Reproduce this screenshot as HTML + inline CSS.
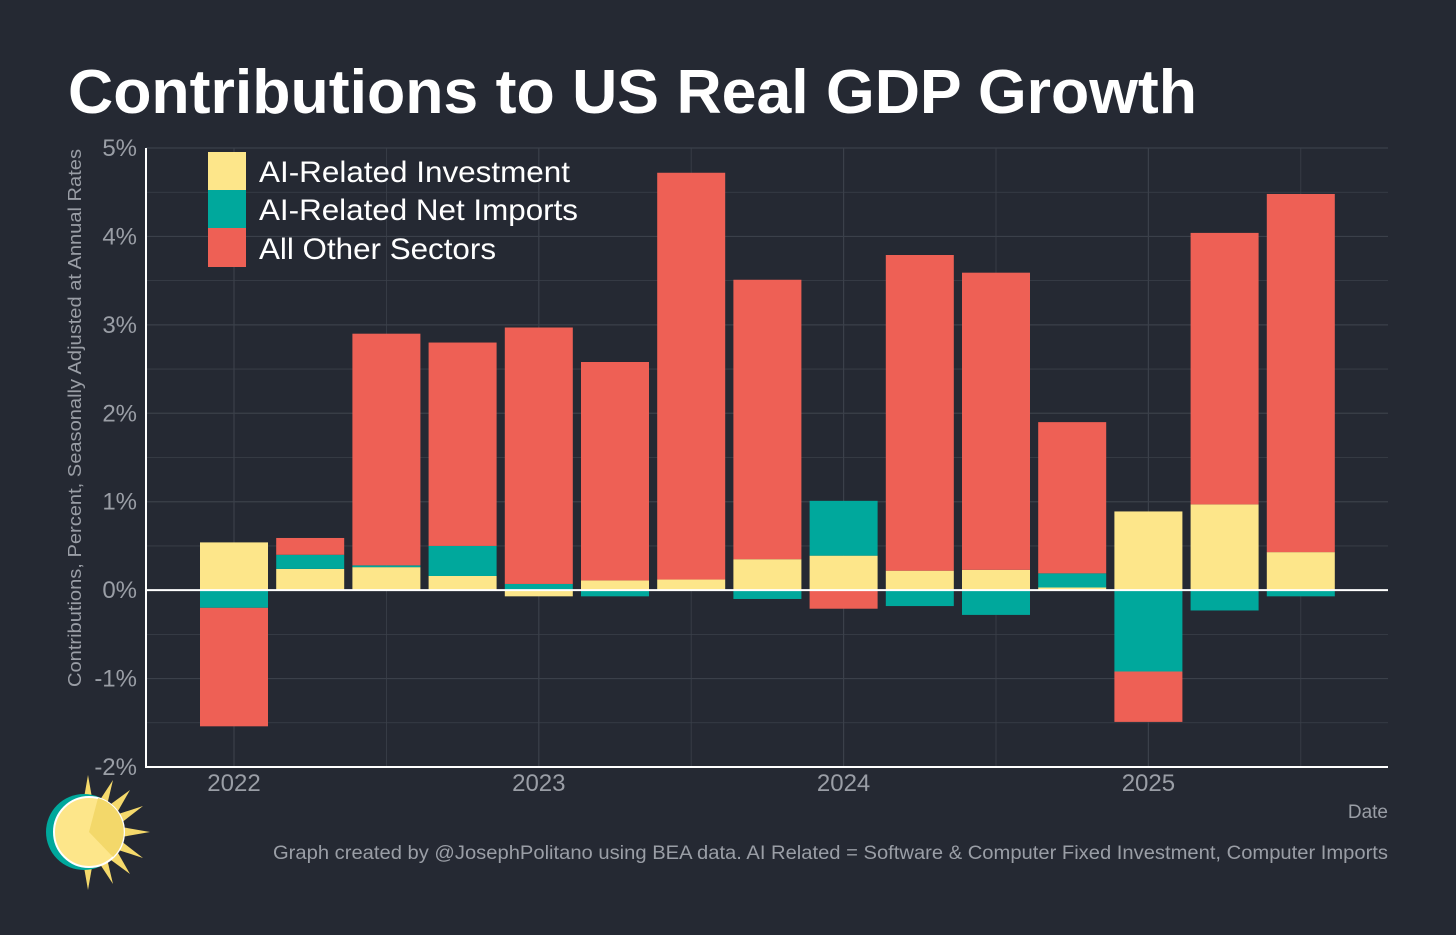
<!DOCTYPE html>
<html><head><meta charset="utf-8"><style>
html,body{margin:0;padding:0;background:#252933;}
body{width:1456px;height:930px;overflow:hidden;font-family:"Liberation Sans",sans-serif;}
</style></head><body>
<svg id="chart" width="1456" height="930" viewBox="0 0 1456 930" xmlns="http://www.w3.org/2000/svg" font-family="Liberation Sans, sans-serif">
<rect width="1456" height="930" fill="#252933"/>
<text x="68" y="113" fill="#ffffff" font-size="62" font-weight="bold" textLength="1129" lengthAdjust="spacingAndGlyphs">Contributions to US Real GDP Growth</text>
<g id="grid"></g>
<g id="bars"></g>
<g id="axes"></g>
<text transform="translate(81,418) rotate(-90)" text-anchor="middle" fill="#9a9ea6" font-size="18" textLength="538" lengthAdjust="spacingAndGlyphs">Contributions, Percent, Seasonally Adjusted at Annual Rates</text>
<text x="1388" y="818" text-anchor="end" fill="#9a9ea6" font-size="19">Date</text>
<text x="273" y="859" fill="#9a9ea6" font-size="19" textLength="1115" lengthAdjust="spacingAndGlyphs">Graph created by @JosephPolitano using BEA data. AI Related = Software &amp; Computer Fixed Investment, Computer Imports</text>
<g>
<rect x="208" y="152" width="38" height="38" fill="#fde68a"/>
<rect x="208" y="190" width="38" height="38" fill="#00a89c"/>
<rect x="208" y="228" width="38" height="39" fill="#ee6055"/>
<text x="259" y="182" fill="#ffffff" font-size="30" textLength="311" lengthAdjust="spacingAndGlyphs">AI-Related Investment</text>
<text x="259" y="220" fill="#ffffff" font-size="30" textLength="319" lengthAdjust="spacingAndGlyphs">AI-Related Net Imports</text>
<text x="259" y="259" fill="#ffffff" font-size="30" textLength="237" lengthAdjust="spacingAndGlyphs">All Other Sectors</text>
</g>
<g>
<g fill="#f5d96b">
<polygon points="88,775 95,815 81,815"/><polygon points="88,890 95,850 81,850"/>
<polygon points="150,832 110,839 110,825"/>
<polygon points="130,790 110,825 100,812"/><polygon points="130,874 110,839 100,852"/>
<polygon points="113,780 104,818 92,812"/><polygon points="113,884 104,846 92,852"/>
<polygon points="143,806 112,830 106,818"/><polygon points="143,858 112,834 106,846"/>
</g>
<circle cx="84" cy="832" r="38" fill="#00a89c"/>
<circle cx="89" cy="832" r="35" fill="#fde68a" stroke="#ffffff" stroke-width="2"/>
<path d="M89,832 L98,798 A35,35 0 0 1 113,857 Z" fill="#f3d86a"/>
</g>
</svg>
<script>
var categories=["2022Q1","2022Q2","2022Q3","2022Q4","2023Q1","2023Q2","2023Q3","2023Q4","2024Q1","2024Q2","2024Q3","2024Q4","2025Q1","2025Q2","2025Q3"];
var investment=[0.54,0.24,0.26,0.16,-0.07,0.11,0.12,0.35,0.39,0.22,0.23,0.03,0.89,0.97,0.43];
var netImports=[-0.20,0.16,0.02,0.34,0.07,-0.07,0.00,-0.10,0.62,-0.18,-0.28,0.16,-0.92,-0.23,-0.07];
var otherSectors=[-1.34,0.19,2.62,2.30,2.90,2.47,4.60,3.16,-0.21,3.57,3.36,1.71,-0.57,3.07,4.05];
var yTicks=[-2,-1,0,1,2,3,4,5];
var yTickLabels=["-2%","-1%","0%","1%","2%","3%","4%","5%"];
var xTickIdx=[0,4,8,12];
var xTickLabels=["2022","2023","2024","2025"];

var NS="http://www.w3.org/2000/svg";
var L=146,R=1388,T=148,B=767,ymin=-2,ymax=5;
function y(v){return B-(v-ymin)/(ymax-ymin)*(B-T);}
function x(i){return 234+i*76.2;}
var bw=68;
function mk(tag,attrs,parent){var e=document.createElementNS(NS,tag);for(var k in attrs)e.setAttribute(k,attrs[k]);parent.appendChild(e);return e;}
var grid=document.getElementById('grid'),bars=document.getElementById('bars'),axes=document.getElementById('axes');
for(var v=ymin;v<=ymax;v+=0.5){
 var gl=mk('line',{x1:L,x2:R,y1:y(v),y2:y(v),stroke:'#3b404a','stroke-width':(v%1===0?1.2:0.8)},grid);
 
 
}
for(var q=0;q<=categories.length;q+=2){
 var xx=x(q);if(xx>R)break;
 var vl=mk('line',{x1:xx,x2:xx,y1:T,y2:B,stroke:'#3b404a','stroke-width':(q%4===0?1.2:0.8)},grid);
 
 
}
var series=[[investment,'#fde68a','bar-investment'],[netImports,'#00a89c','bar-net-imports'],[otherSectors,'#ee6055','bar-other-sectors']];
for(var i=0;i<categories.length;i++){
 var pos=0,neg=0;
 for(var s=0;s<series.length;s++){
  var val=series[s][0][i],a,b;
  if(val>=0){a=pos;b=pos+val;pos=b;}else{a=neg;b=neg+val;neg=b;}
  var r=mk('rect',{x:x(i)-bw/2,y:Math.min(y(a),y(b)),width:bw,height:Math.abs(y(a)-y(b)),fill:series[s][1]},bars);
  
  
 }
}
var z=mk('line',{x1:L,x2:R,y1:y(0),y2:y(0),stroke:'#ffffff','stroke-width':2},axes);


var ya=mk('line',{x1:L,x2:L,y1:T,y2:B+1,stroke:'#ffffff','stroke-width':2},axes);


var xa=mk('line',{x1:L-1,x2:R,y1:B,y2:B,stroke:'#ffffff','stroke-width':2},axes);


for(var t=0;t<yTicks.length;t++){
 var tl=mk('text',{x:137,y:y(yTicks[t])+8,'text-anchor':'end',fill:'#9a9ea6','font-size':24},axes);
 tl.textContent=yTickLabels[t];
 
 
}
for(var t=0;t<xTickIdx.length;t++){
 var xl=mk('text',{x:x(xTickIdx[t]),y:791,'text-anchor':'middle',fill:'#9a9ea6','font-size':24},axes);
 xl.textContent=xTickLabels[t];
 
 
}
</script>
</body></html>
